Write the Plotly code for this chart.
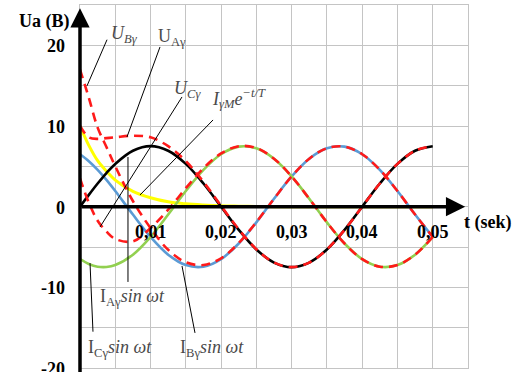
import plotly.graph_objects as go

# time samples (s)
t = [0, 0.00125, 0.0025, 0.00375, 0.005, 0.0075, 0.01, 0.0125, 0.015, 0.0175, 0.02,
     0.0225, 0.025, 0.0275, 0.03, 0.0325, 0.035, 0.0375, 0.04, 0.0425, 0.045, 0.0475, 0.05]

# I_Aγ sin ωt (black)
i_a = [0, 1.46, 2.87, 4.17, 5.30, 6.93, 7.5, 6.93, 5.30, 2.87, 0, -2.87, -5.30, -6.93, -7.5,
       -6.93, -5.30, -2.87, 0, 2.87, 5.30, 6.93, 7.5]
# I_Bγ sin ωt (blue)
i_b = [6.50, 5.64, 4.57, 3.32, 1.94, -0.98, -3.75, -5.95, -7.24, -7.44, -6.50, -4.57, -1.94,
       0.98, 3.75, 5.95, 7.24, 7.44, 6.50, 4.57, 1.94, -0.98, -3.75]
# I_Cγ sin ωt (green)
i_c = [-6.50, -7.10, -7.44, -7.48, -7.24, -5.95, -3.75, -0.98, 1.94, 4.57, 6.50, 7.44, 7.24,
       5.95, 3.75, 0.98, -1.94, -4.57, -6.50, -7.44, -7.24, -5.95, -3.75]
# I_γM e^(-t/T) (yellow)
i_exp = [10, 7.6, 5.7, 4.4, 3.3, 1.9, 1.1, 0.6, 0.35, 0.2, 0.1, 0.06, 0.03, 0, 0, 0, 0, 0, 0,
         0, 0, 0, 0]
# U_Aγ, U_Bγ, U_Cγ (red dashed)
u_a = [10, 8.6, 8.4, 8.5, 8.6, 8.8, 8.6, 7.5, 5.65, 3.07, 0.1, -2.81, -5.27, -6.93, -7.5,
       -6.93, -5.30, -2.87, 0, 2.87, 5.30, 6.93, 7.5]
u_b = [17.0, 13.5, 9.8, 7.4, 5.0, 0.7, -2.65, -5.35, -6.89, -7.24, -6.40, -4.51, -1.91,
       0.98, 3.75, 5.95, 7.24, 7.44, 6.50, 4.57, 1.94, -0.98, -3.75]
u_c = [3.5, 0.5, -1.74, -3.08, -4.0, -4.3, -2.65, -0.38, 2.29, 4.77, 6.60, 7.50, 7.27,
       5.95, 3.75, 0.98, -1.94, -4.57, -6.50, -7.44, -7.24, -5.95, -3.75]

x_tick_vals = [0.01, 0.02, 0.03, 0.04, 0.05]
x_tick_text = ["0,01", "0,02", "0,03", "0,04", "0,05"]
y_tick_vals = [20, 10, 0, -10, -20]
y_tick_text = ["20", "10", "0", "-10", "-20"]

SERIF = "Liberation Serif"
LBL = "#4a4a4a"
BOLD = dict(family=SERIF, size=18, color="black", weight="bold")

fig = go.Figure()

def curve(y, color, width=2.6, dash=None):
    fig.add_trace(go.Scatter(x=t, y=y, mode="lines",
                             line=dict(color=color, width=width, dash=dash,
                                       shape="spline", smoothing=1.0),
                             hoverinfo="skip", showlegend=False))

# x axis thick line with arrow (drawn first, below curves)
fig.add_annotation(x=0.0546, y=0, ax=0, ay=0, xref="x", yref="y", axref="x", ayref="y",
                   text="", showarrow=True, arrowhead=2, arrowsize=1.1, arrowwidth=3.5,
                   arrowcolor="black", standoff=0)

curve(i_exp, "#ffff00", 3)
curve(i_b, "#5b9bd5")
curve(i_c, "#92d050")
curve(i_a, "black")
curve(u_a, "#ff1a1a", 2.6, "9px,6px")
curve(u_b, "#ff1a1a", 2.6, "9px,6px")
curve(u_c, "#ff1a1a", 2.6, "9px,6px")

# y axis thick line with arrow
fig.add_annotation(x=0, y=24.6, ax=0, ay=-21, xref="x", yref="y", axref="x", ayref="y",
                   text="", showarrow=True, arrowhead=2, arrowsize=1.1, arrowwidth=3.5,
                   arrowcolor="black", standoff=0)

# tick labels
for v, s in zip(x_tick_vals, x_tick_text):
    fig.add_annotation(x=v, y=0, xref="x", yref="y", text=s, showarrow=False,
                       yshift=-25, font=BOLD)
for v, s in zip(y_tick_vals, y_tick_text):
    fig.add_annotation(x=0, y=v, xref="x", yref="y", text=s, showarrow=False,
                       xanchor="right", xshift=-13, yshift=-1, font=BOLD)

# axis titles
fig.add_annotation(x=0, y=22.9, xref="x", yref="y", text="Ua (B)", showarrow=False,
                   xanchor="right", xshift=-8, font=BOLD)
fig.add_annotation(x=0.0541, y=-2.0, xref="x", yref="y", text="t (sek)", showarrow=False,
                   xanchor="left", font=BOLD)

# curve labels and leader lines
labels = [
    ("<i>U<sub>Bγ</sub></i>", 0.0063, 21.3),
    ("U<sub>Aγ</sub>", 0.0131, 21.0),
    ("<i>U<sub>Cγ</sub></i>", 0.0153, 14.5),
    ("<i>I<sub>γM</sub>e<sup>−t/T</sup></i>", 0.0225, 13.4),
    ("I<sub>Aγ</sub><i>sin ωt</i>", 0.0075, -11.3),
    ("I<sub>Cγ</sub><i>sin ωt</i>", 0.0057, -17.6),
    ("I<sub>Bγ</sub><i>sin ωt</i>", 0.0187, -17.6),
]
for txt, x, y in labels:
    fig.add_annotation(x=x, y=y, xref="x", yref="y", text=txt, showarrow=False,
                       font=dict(family=SERIF, size=18, color=LBL))

leaders = [
    (0.00383, 20.7, 0.00099, 14.97),
    (0.01134, 19.8, 0.00666, 8.64),
    (0.01446, 13.6, 0.00284, -2.52),
    (0.01886, 10.75, 0.00851, 1.45),
    (0.0068, 6.16, 0.0068, -9.33),
    (0.00142, -7.0, 0.00184, -15.5),
    (0.01446, -7.35, 0.0163, -15.65),
]
for x0, y0, x1, y1 in leaders:
    fig.add_shape(type="line", x0=x0, y0=y0, x1=x1, y1=y1, xref="x", yref="y",
                  line=dict(color="black", width=1))

fig.update_xaxes(range=[0, 0.055], dtick=0.005, tick0=0, showgrid=True, gridcolor="#c4c4c4",
                 gridwidth=1, zeroline=False, showticklabels=False, ticks="",
                 showline=True, mirror=True, linecolor="#c4c4c4", linewidth=1)
fig.update_yaxes(range=[-20, 25], dtick=5, tick0=0, showgrid=True, gridcolor="#c4c4c4",
                 gridwidth=1, zeroline=False, showticklabels=False, ticks="",
                 showline=True, mirror=True, linecolor="#c4c4c4", linewidth=1)

fig.update_layout(width=523, height=372, margin=dict(l=80, r=55, t=5, b=4),
                  plot_bgcolor="white", paper_bgcolor="white", showlegend=False,
                  font=dict(family=SERIF))

fig.write_html("out.html", config={"displayModeBar": False},
               post_script="document.body.style.margin='0px';"
                           "document.body.style.overflow='hidden';")
